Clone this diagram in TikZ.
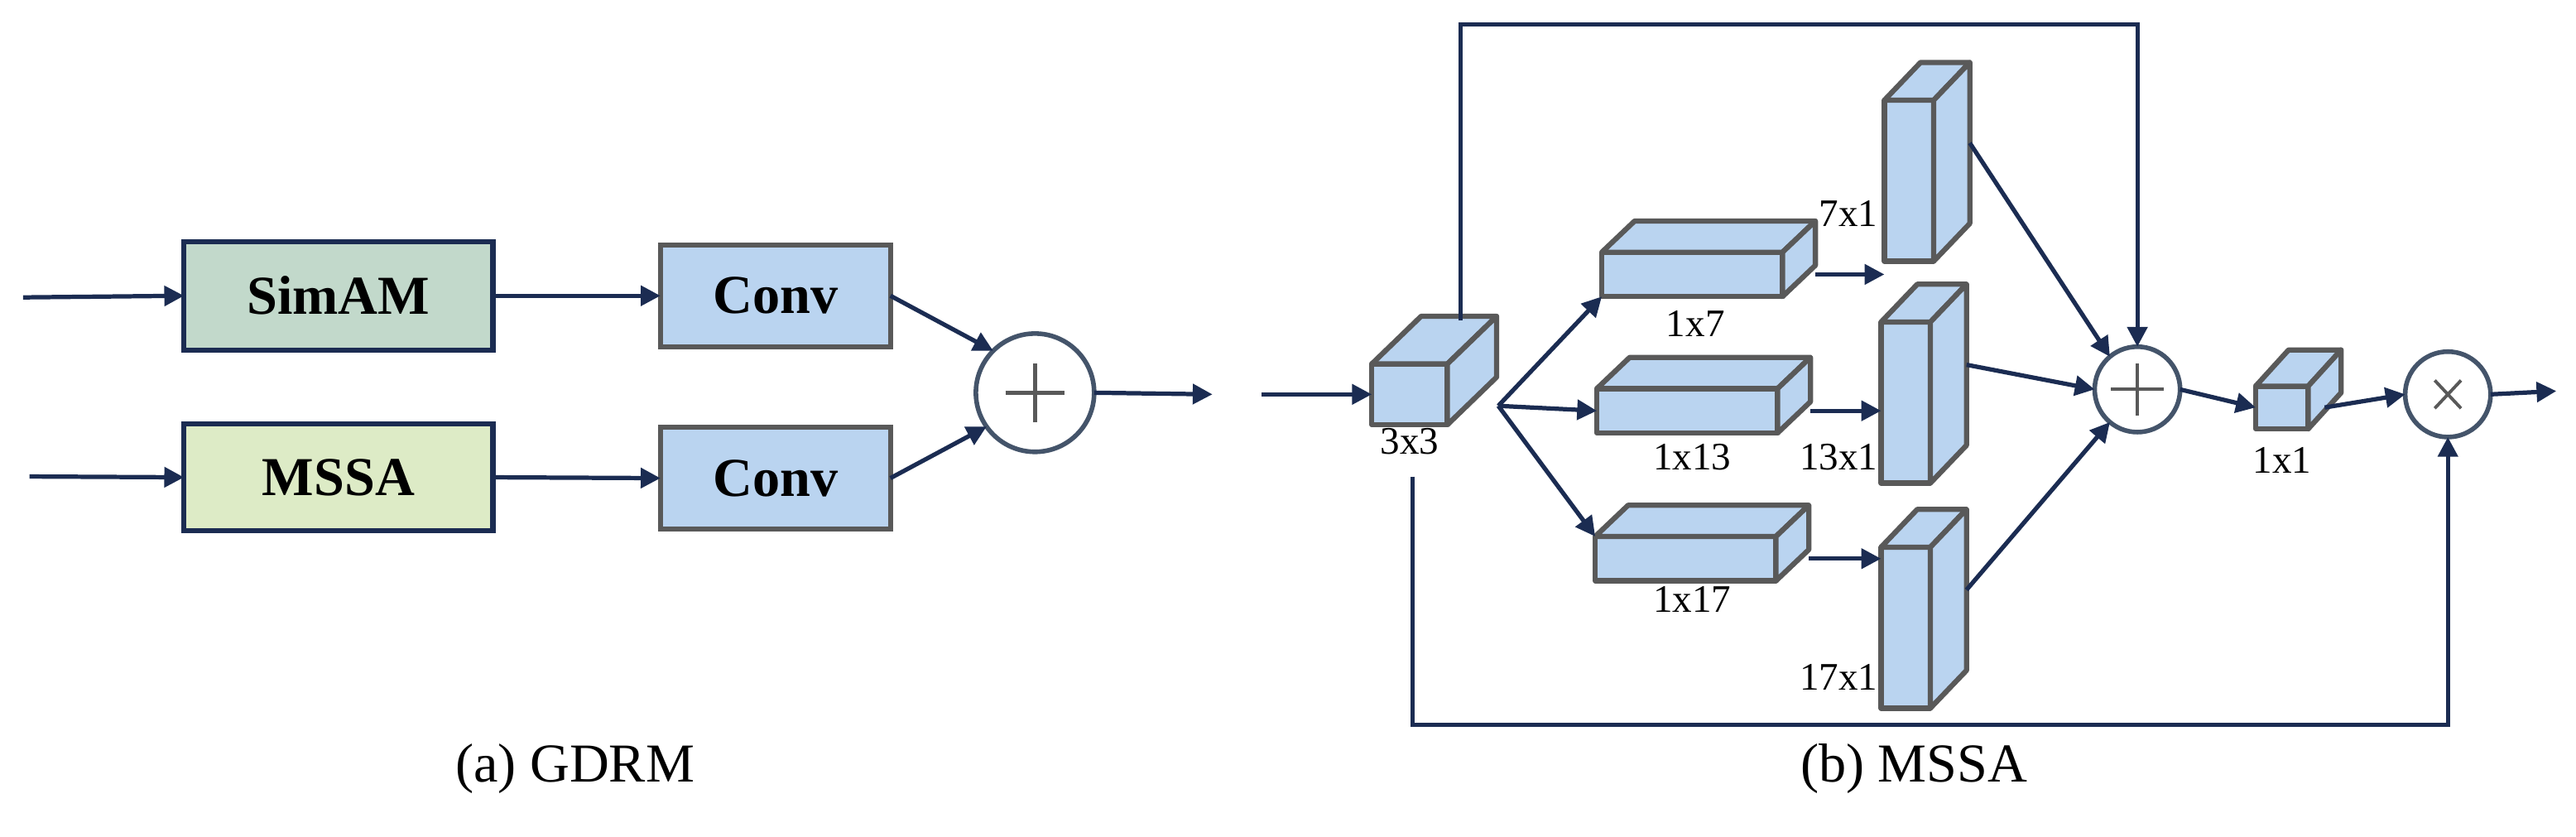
\documentclass[tikz,border=0pt]{standalone}
\usepackage{fontspec}
\setmainfont{Liberation Serif}
\usetikzlibrary{arrows.meta}
\definecolor{navy}{HTML}{1B2C52}
\definecolor{bgray}{HTML}{595959}
\definecolor{cblue}{HTML}{BAD4F0}
\definecolor{sgreen}{HTML}{C2D9CB}
\definecolor{lgreen}{HTML}{DDEBC6}
\definecolor{cgray}{HTML}{44546A}
\tikzset{
 arr/.style={navy,line width=1.5pt,-{Triangle[length=0.24cm,width=0.24cm]}},
 face/.style={draw=bgray,fill=cblue,line width=1.8pt,inner sep=0,outer sep=0,line join=round},
 blk/.style={draw=navy,line width=1.8pt,inner sep=0,outer sep=0,font=\fontsize{19}{22}\selectfont\bfseries},
 conv/.style={draw=bgray,fill=cblue,line width=1.8pt,inner sep=0,outer sep=0,font=\fontsize{19}{22}\selectfont\bfseries},
 opc/.style={circle,draw=cgray,fill=white,line width=1.6pt,inner sep=0,outer sep=0},
 lab/.style={font=\fontsize{13.5}{15}\selectfont,inner sep=1pt},
 captxt/.style={font=\fontsize{19}{22}\selectfont},
}
\newcommand\mycube[7]{%
 \node[face,minimum width=#4*0.02cm,minimum height=#5*0.02cm] (#1) at (#2,#3) {};
 \draw[face] (#1.north west) -- ++(#6,-#7) -- ++(#4,0) -- (#1.north east) -- cycle;
 \draw[face] (#1.north east) -- ++(#6,-#7) -- ++(0,#5) -- (#1.south east) -- cycle;
}
\begin{document}
\begin{tikzpicture}[x=0.02cm,y=-0.02cm]
\useasboundingbox (0,0) rectangle (1568,509);
% ---------- (a) GDRM
\node[blk,fill=sgreen,minimum width=188*0.02cm,minimum height=66*0.02cm] (sim) at (206,180) {SimAM};
\node[blk,fill=lgreen,minimum width=188*0.02cm,minimum height=65*0.02cm] (mssa) at (206,290.5) {MSSA};
\node[conv,minimum width=140*0.02cm,minimum height=62*0.02cm] (c1) at (472,180) {Conv};
\node[conv,minimum width=140*0.02cm,minimum height=62*0.02cm] (c2) at (472,291) {Conv};
\node[opc,minimum size=72*0.02cm] (p1) at (630,239) {};
\draw[bgray,line width=1.3pt] ([xshift=-0.36cm]p1.center) -- ([xshift=0.36cm]p1.center)
 ([yshift=-0.36cm]p1.center) -- ([yshift=0.36cm]p1.center);
\coordinate (ia) at (14,181);
\coordinate (ib) at (18,290);
\coordinate (oa) at (738,240);
\draw[arr] (ia) -- (sim.west);
\draw[arr] (ib) -- (mssa.west);
\draw[arr] (sim.east) -- (c1.west);
\draw[arr] (mssa.east) -- (c2.west);
\draw[arr] (c1.east) -- (p1.135);
\draw[arr] (c2.east) -- (p1.215);
\draw[arr] (p1.east) -- (oa);
\node[captxt] at (350,468) {(a) GDRM};
% ---------- (b) MSSA
\mycube{k3}{858}{240}{46}{37}{30}{29}
\node[lab,anchor=north] at (k3.south) {3x3};
\mycube{h7}{1030}{167}{110}{27}{20}{19}
\mycube{h13}{1027}{250}{110}{27}{20}{19}
\mycube{h17}{1026}{340}{110}{27}{20}{19}
\node[lab] at (1032,197) {1x7};
\node[lab] at (1030,278) {1x13};
\node[lab] at (1030,365) {1x17};
\mycube{v7}{1162}{110}{30}{98}{22}{23}
\mycube{v13}{1160}{245}{30}{98}{22}{23}
\mycube{v17}{1160}{382}{30}{98}{22}{23}
\node[lab,anchor=east] at (1145,130) {7x1};
\node[lab,anchor=east] at (1145,278) {13x1};
\node[lab,anchor=east] at (1145,412) {17x1};
\mycube{k1}{1389}{248}{32}{26}{20}{22}
\node[lab] at (1389,280) {1x1};
\node[opc,minimum size=52*0.02cm] (p2) at (1301,237) {};
\draw[bgray,line width=1.1pt] ([xshift=-0.32cm]p2.center) -- ([xshift=0.32cm]p2.center)
 ([yshift=-0.32cm]p2.center) -- ([yshift=0.32cm]p2.center);
\node[opc,minimum size=52*0.02cm] (m2) at (1490,240) {};
\draw[bgray,line width=1.1pt] ([shift={(-0.16cm,-0.17cm)}]m2.center) -- ([shift={(0.16cm,0.17cm)}]m2.center)
 ([shift={(-0.16cm,0.17cm)}]m2.center) -- ([shift={(0.16cm,-0.17cm)}]m2.center);
\coordinate (in) at (768,240);
\coordinate (br) at (912,247);
\coordinate (tp) at (889,195);
\coordinate (bt) at (860,290);
\coordinate (out) at (1556,238);
\coordinate (tc) at (1301,15);
\coordinate (bc) at (1490,441);
\draw[arr] (in) -- (k3.west);
\draw[arr] (br) -- (h7.south west);
\draw[arr] (br) -- (h13.west);
\draw[arr] (br) -- (h17.north west);
\draw[arr] ([xshift=0.4cm]h7.east) -- (h7.east -| v7.west);
\draw[arr] ([xshift=0.4cm]h13.east) -- (h13.east -| v13.west);
\draw[arr] ([xshift=0.4cm]h17.east) -- (h17.east -| v17.west);
\draw[arr] ([shift={(22,-23)}]v7.east) -- (p2.130);
\draw[arr] ([shift={(22,-23)}]v13.east) -- (p2.west);
\draw[arr] ([shift={(22,-23)}]v17.east) -- (p2.230);
\draw[arr] (tp) |- (tc) -- (p2.north);
\draw[arr] (bt) |- (bc) -- (m2.south);
\draw[arr] (p2.east) -- (k1.west);
\draw[arr] ([xshift=0.2cm]k1.east) -- (m2.west);
\draw[arr] (m2.east) -- (out);
\node[captxt] at (1165,468) {(b) MSSA};
\end{tikzpicture}
\end{document}
